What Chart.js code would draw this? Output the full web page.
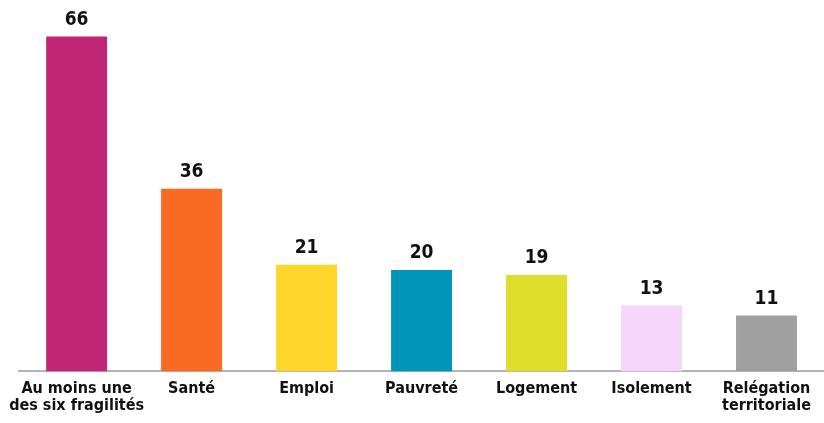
<!DOCTYPE html>
<html>
<head>
<meta charset="utf-8">
<script src="https://cdn.jsdelivr.net/npm/chart.js@4"></script>
<style>
    html, body { margin: 0; padding: 0; background: #fff; }
    #wrap { width: 824px; height: 423px; }
</style>
</head>
<body>
<div id="wrap"><canvas id="myChart"></canvas></div>
<script>
// données
const categories = [
    ['Au moins une', 'des six fragilités'],
    'Santé',
    'Emploi',
    'Pauvreté',
    'Logement',
    'Isolement',
    ['Relégation', 'territoriale']
];
const values = [66, 36, 21, 20, 19, 13, 11];
const barColors = ['#C12676', '#F96A22', '#FDD62B', '#0095B8', '#DEDE2B', '#F5D5FA', '#A0A0A0'];

const fontFamily = '"Liberation Sans Narrow", "DejaVu Sans Condensed", "Liberation Sans", sans-serif';

// écrit la valeur au-dessus de chaque barre
const valueLabels = {
    id: 'valueLabels',
    afterDatasetsDraw(chart) {
        const ctx = chart.ctx;
        const meta = chart.getDatasetMeta(0);
        ctx.save();
        ctx.fillStyle = '#111';
        ctx.font = 'bold 19px ' + fontFamily;
        ctx.textAlign = 'center';
        ctx.textBaseline = 'bottom';
        meta.data.forEach(function (bar, i) {
            ctx.fillText(values[i], bar.x, bar.y - 7);
        });
        ctx.restore();
    }
};

const ctx = document.getElementById('myChart');
const myChart = new Chart(ctx, {
    type: 'bar',
    data: {
        labels: categories,
        datasets: [{
            data: values,
            backgroundColor: barColors,
            borderWidth: 0,
            categoryPercentage: 1,
            barPercentage: 0.53
        }]
    },
    options: {
        responsive: true,
        maintainAspectRatio: false,
        animation: false,
        layout: {
            autoPadding: false,
            padding: { left: 3, right: 0, top: 0, bottom: 0 }
        },
        scales: {
            y: {
                display: false,
                beginAtZero: true,
                max: 73.2
            },
            x: {
                grid: { display: false, drawTicks: false },
                border: { display: true, color: '#B3B3B3', width: 2 },
                ticks: {
                    color: '#111',
                    padding: 9,
                    maxRotation: 0,
                    autoSkip: false,
                    font: { family: fontFamily, size: 16, weight: 'bold', lineHeight: 1.05 }
                }
            }
        },
        plugins: {
            legend: { display: false },
            tooltip: { enabled: false }
        }
    },
    plugins: [valueLabels]
});
</script>
</body>
</html>
